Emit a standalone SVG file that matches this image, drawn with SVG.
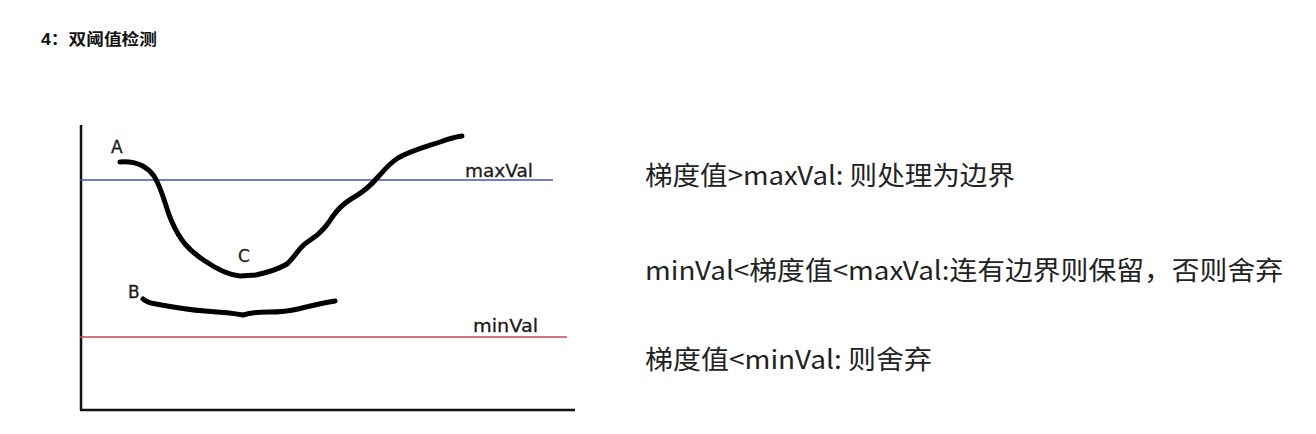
<svg xmlns="http://www.w3.org/2000/svg" width="1316" height="434" viewBox="0 0 1316 434">
<style>
.title{font-family:"Liberation Sans","Noto Sans CJK SC",sans-serif;font-weight:bold;font-size:16px;fill:#111}
.lbl{font-family:"DejaVu Sans",sans-serif;font-size:17px;fill:#1a1a1a;stroke:#1a1a1a;stroke-width:0.3}
.rule{font-family:"Noto Sans CJK SC",sans-serif;font-size:26px;fill:#222}
.curve{fill:none;stroke:#000;stroke-width:5;stroke-linecap:round;stroke-linejoin:round}
.axis{stroke:#111;stroke-width:2.5;fill:none}
</style>
<rect width="1316" height="434" fill="#fff"/>
<text class="title" x="41" y="45" textLength="116" lengthAdjust="spacingAndGlyphs">4：双阈值检测</text>
<g id="chart">
<line class="axis" x1="81" y1="125" x2="81" y2="410"/>
<line class="axis" x1="80" y1="410" x2="575" y2="410"/>
<line x1="80" y1="180" x2="553" y2="180" stroke="#3f52c2" stroke-width="1.6"/>
<line x1="80" y1="337" x2="567" y2="337" stroke="#c8444c" stroke-width="1.6"/>
<path class="curve" d="M120,162 C132,161 145,164 154,176 C163,190 166,210 172,222 C180,240 188,250 205,261 C218,270 228,275 240,276 L256,275 C270,272 280,268 287,264 C295,257 298,249 306,243 C316,236 322,232 329,222 C336,211 342,204 356,196 C366,190 372,184 378,177 C385,169 390,163 398,158 C410,151 425,147 440,142 C448,139 455,137 462,136"/>
<path class="curve" d="M143,299 C146,302 150,303 156,304 C172,307 190,310 205,311 C220,312 232,313 243,315 C250,313 258,312 268,312 C280,312 290,311 298,309 C310,306 322,303 335,301"/>
<text class="lbl" x="111" y="153">A</text>
<text class="lbl" x="238" y="262">C</text>
<text class="lbl" x="128" y="298">B</text>
<text class="lbl" x="465" y="177" textLength="68" lengthAdjust="spacingAndGlyphs">maxVal</text>
<text class="lbl" x="473" y="332" textLength="65" lengthAdjust="spacingAndGlyphs">minVal</text>
</g>
<g id="rules">
<text class="rule" x="645" y="185" textLength="370" lengthAdjust="spacingAndGlyphs">梯度值&gt;maxVal: 则处理为边界</text>
<text class="rule" x="645" y="280" textLength="638" lengthAdjust="spacingAndGlyphs">minVal&lt;梯度值&lt;maxVal:连有边界则保留，否则舍弃</text>
<text class="rule" x="645" y="369" textLength="287" lengthAdjust="spacingAndGlyphs">梯度值&lt;minVal: 则舍弃</text>
</g>
</svg>
